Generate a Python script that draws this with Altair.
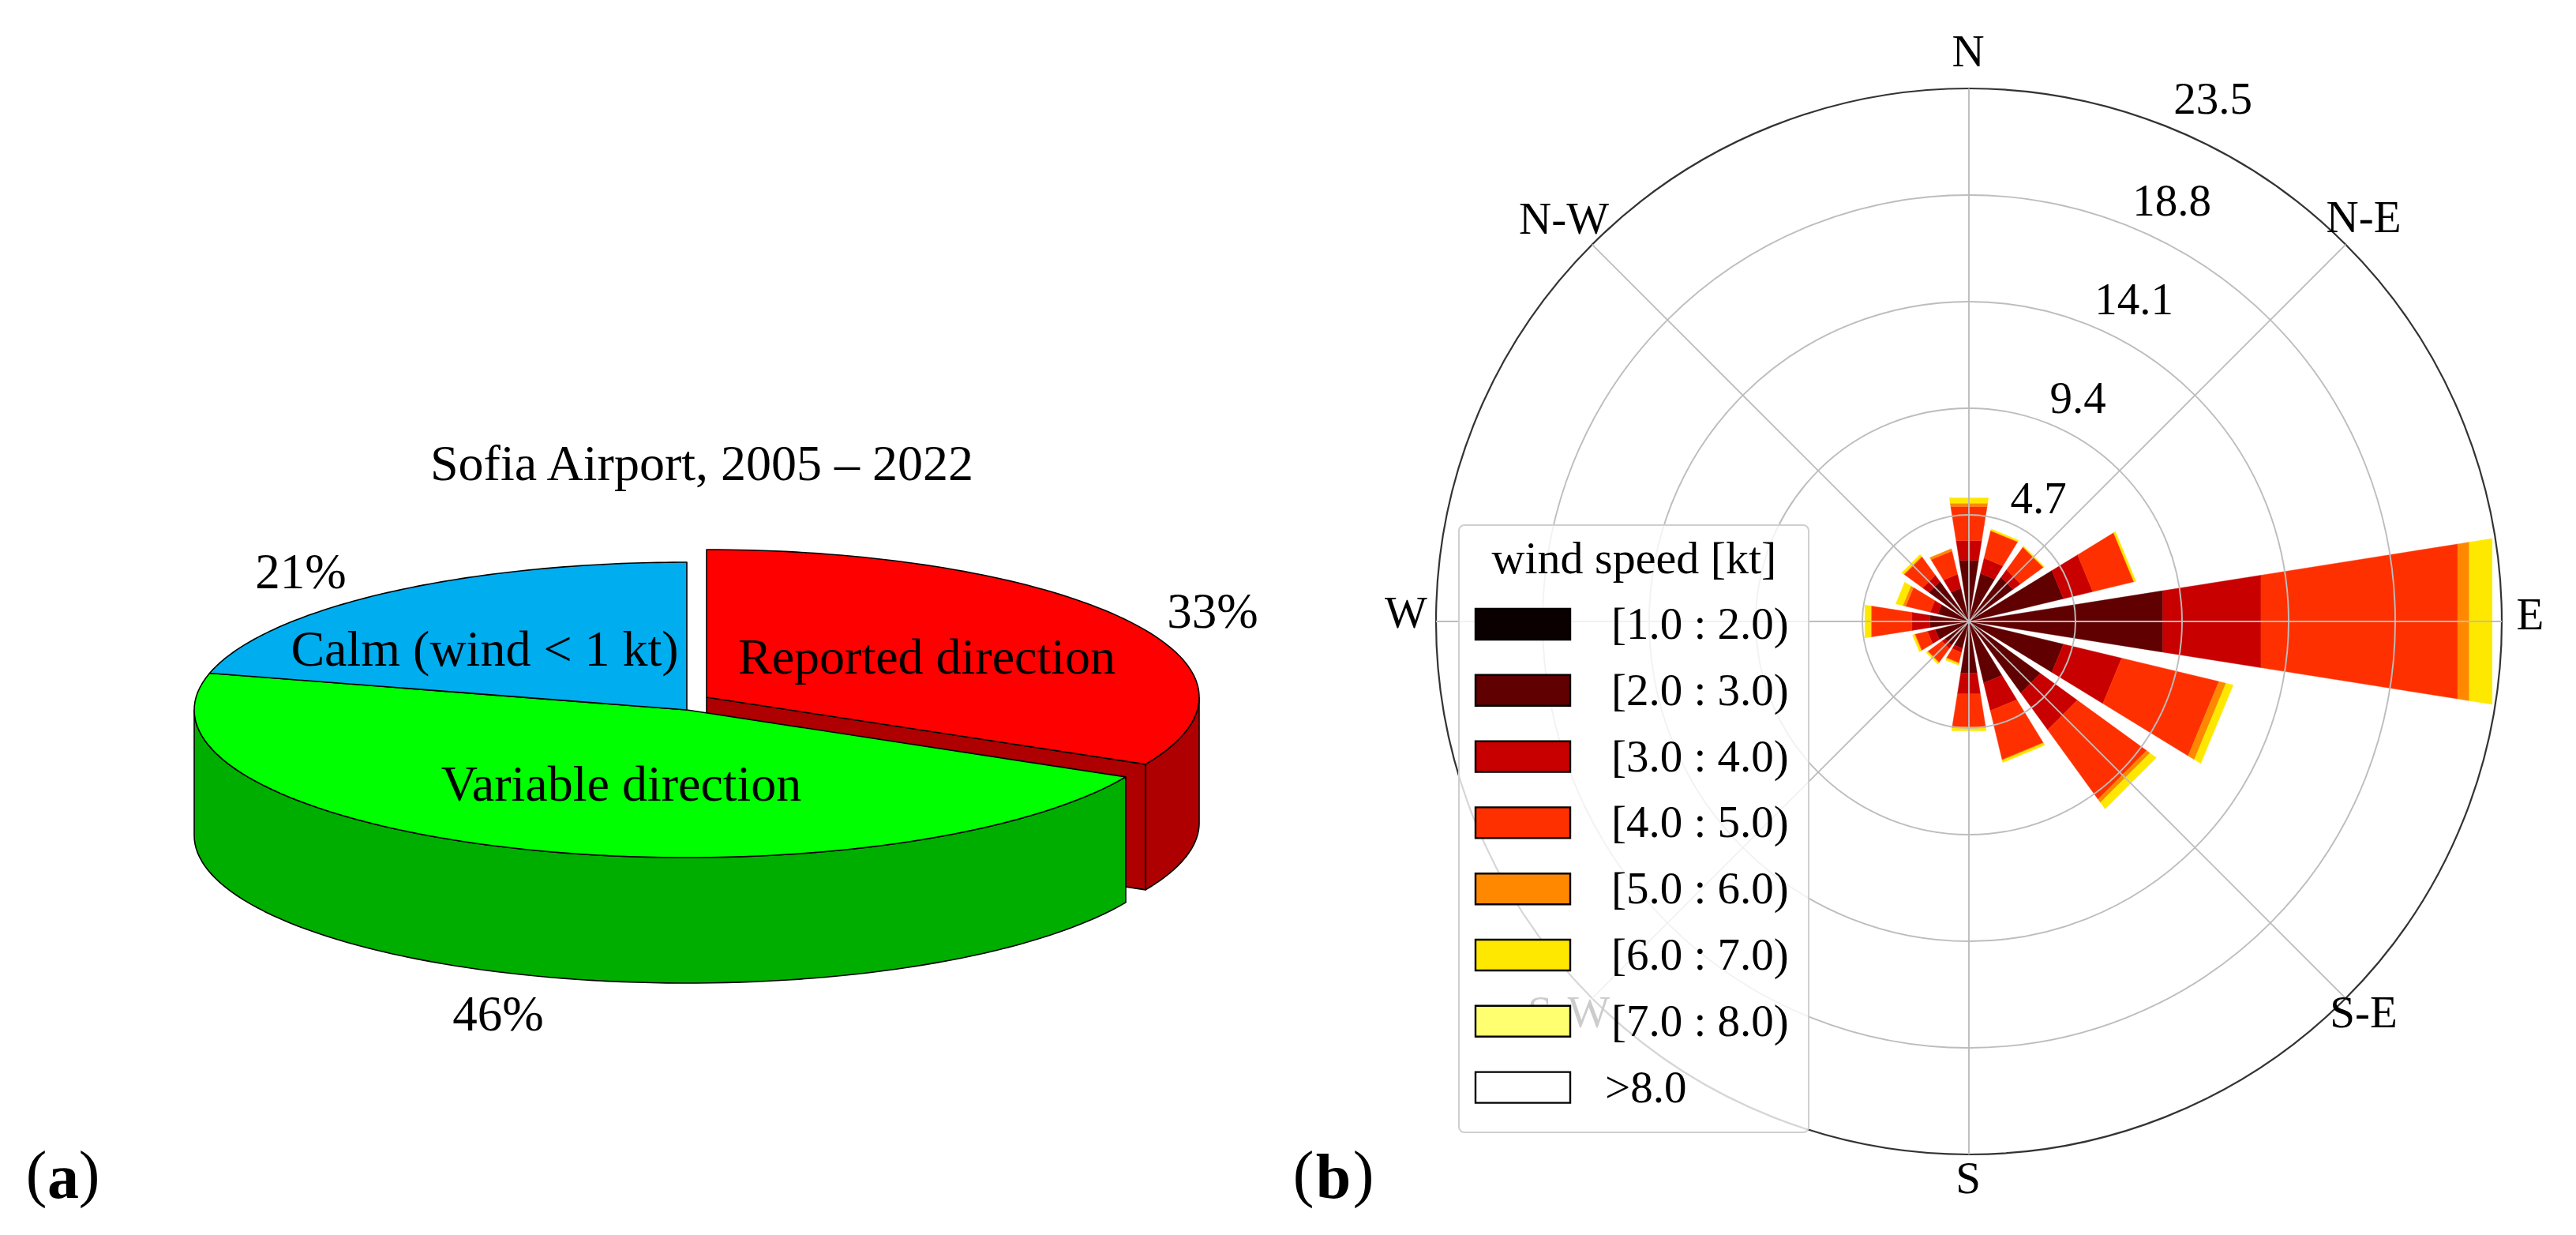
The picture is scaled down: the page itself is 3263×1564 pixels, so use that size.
import numpy as np
import pandas as pd
import altair as alt

FONT = "Liberation Serif"
W, H = 3247, 1548

# ---------- data: panel (a)
pie_names = ["Reported direction", "Variable direction", "Calm (wind < 1 kt)"]
pie_shares = [33, 46, 21]
pie_title = "Sofia Airport, 2005 \u2013 2022"

# ---------- data: panel (b)
directions = ["N", "NNE", "NE", "ENE", "E", "ESE", "SE", "SSE",
              "S", "SSW", "SW", "WSW", "W", "WNW", "NW", "NNW"]
# cumulative frequency at the outer edge of each speed class, per direction
upto_3 = [2.72, 2.18, 2.41, 4.29, 8.66, 4.29, 3.90, 2.79, 2.30, 1.23, 1.30, 1.53, 1.74, 1.41, 2.18, 1.51]
upto_4 = [3.60, 2.87, 2.82, 5.62, 13.04, 6.93, 5.91, 4.05, 3.23, 1.41, 1.47, 1.88, 2.54, 1.76, 2.52, 2.14]
upto_5 = [5.13, 4.11, 4.05, 7.48, 21.82, 11.34, 9.69, 6.27, 4.71, 1.88, 2.23, 2.44, 4.34, 2.87, 3.52, 3.20]
upto_6 = [5.28, 4.13, 4.07, 7.49, 22.34, 11.66, 9.87, 6.30, 4.76, 1.91, 2.26, 2.47, 4.38, 3.00, 3.56, 3.30]
upto_7 = [5.52, 4.20, 4.11, 7.58, 23.36, 11.99, 10.22, 6.40, 4.88, 1.99, 2.33, 2.56, 4.64, 3.32, 3.66, 3.30]
class_labels = ["[1.0 : 2.0)", "[2.0 : 3.0)", "[3.0 : 4.0)", "[4.0 : 5.0)",
                "[5.0 : 6.0)", "[6.0 : 7.0)", "[7.0 : 8.0)", ">8.0"]
class_colors = ["#0B0000", "#600000", "#C80000", "#FF3000",
                "#FF8800", "#FFE800", "#FFFF70", "#FFFFFF"]
ring_values = [4.7, 9.4, 14.1, 18.8]
ring_outer = 23.5
spoke_angles = [0, 45, 90, 135, 180, 225, 270, 315]

# ---------- scales
X = alt.Scale(domain=[8, 8 + W], range=[0, W])
Y = alt.Scale(domain=[8, 8 + H], range=[0, H])
TH = alt.Scale(domain=[0, 360], range=[0, 2 * np.pi])
RAD = alt.Scale(domain=[0, ring_outer], range=[0, 675])
CX, CY = 2494, 787
PX_PER_UNIT = 675 / ring_outer


def T(text, x, y, size=57, color="#000", **kw):
    return alt.Chart(pd.DataFrame({"t": [text]})).mark_text(
        font=FONT, fontSize=size, color=color, align=kw.pop("align", "center"),
        baseline="middle", **kw
    ).encode(text="t:N", x=alt.value(x - 8), y=alt.value(y - 8))


# ---------- pie helpers
RX, RY, DEPTH = 624, 187, 159
VIEW_SHIFT = 1.8   # the perspective moves the red/green edge a little


def ellipse_pts(cx, cy, a0, a1, n=90):
    a = np.radians(np.linspace(a0, a1, n))
    return cx + RX * np.sin(a), cy - RY * np.cos(a)


def poly(xs, ys, fill):
    xs = np.append(xs, xs[0])
    ys = np.append(ys, ys[0])
    df = pd.DataFrame({"x": xs, "y": ys, "i": np.arange(len(xs))})
    return alt.Chart(df).mark_line(
        fill=fill, stroke="#000", strokeWidth=1.6, strokeJoin="round", clip=False
    ).encode(
        x=alt.X("x:Q", scale=X, axis=None),
        y=alt.Y("y:Q", scale=Y, axis=None),
        order="i:Q",
    )


deg = [s * 3.6 for s in pie_shares]
red_end = deg[0] - VIEW_SHIFT        # clockwise from the top
green_end = deg[0] + deg[1]
blue_end = 360.0

PCX, PCY = 870, 899                  # main pie
RCX, RCY = 895, 883                  # exploded slice

pie_layers = []
# red slice: walls first
ax, ay = ellipse_pts(RCX, RCY, 90, red_end)
pie_layers.append(poly(np.r_[ax, ax[::-1]], np.r_[ay, ay[::-1] + DEPTH], "#AE0000"))
ex, ey = ellipse_pts(RCX, RCY, red_end, red_end, 1)
pie_layers.append(poly(np.r_[RCX, ex, ex, RCX], np.r_[RCY, ey, ey + DEPTH, RCY + DEPTH], "#AE0000"))
ax, ay = ellipse_pts(RCX, RCY, 0, red_end)
pie_layers.append(poly(np.r_[RCX, ax], np.r_[RCY, ay], "#FF0000"))
# green slice wall (front of the pie)
ax, ay = ellipse_pts(PCX, PCY, red_end, 270)
pie_layers.append(poly(np.r_[ax, ax[::-1]], np.r_[ay, ay[::-1] + DEPTH], "#00AE00"))
ax, ay = ellipse_pts(PCX, PCY, red_end, green_end)
pie_layers.append(poly(np.r_[PCX, ax], np.r_[PCY, ay], "#00FF00"))
ax, ay = ellipse_pts(PCX, PCY, green_end, blue_end)
pie_layers.append(poly(np.r_[PCX, ax], np.r_[PCY, ay], "#00ADEF"))

# ---------- wind rose: straight-ended wedges
dir_deg = np.arange(len(directions)) * 22.5
half = 9.0
stack = [np.zeros(len(directions)), upto_3, upto_4, upto_5, upto_6, upto_7]
bar_layers = []
for k in range(1, len(stack)):
    rows = []
    for j, d in enumerate(directions):
        r0, r1 = float(stack[k - 1][j]), float(stack[k][j])
        if r1 <= r0:
            continue
        corners = [(r0, -half), (r1, -half), (r1, half), (r0, half), (r0, -half)]
        for i, (r, da) in enumerate(corners):
            a = np.radians(dir_deg[j] + da)
            rows.append({"dir": d, "i": i,
                         "x": CX + r * PX_PER_UNIT * np.sin(a),
                         "y": CY - r * PX_PER_UNIT * np.cos(a)})
    bar_layers.append(
        alt.Chart(pd.DataFrame(rows)).mark_line(
            fill=class_colors[k], stroke=class_colors[k], strokeWidth=0.4
        ).encode(
            x=alt.X("x:Q", scale=X, axis=None),
            y=alt.Y("y:Q", scale=Y, axis=None),
            detail="dir:N",
            order="i:Q",
        )
    )

centre = dict(x=alt.value(CX - 8), y=alt.value(CY - 8))

rings = pd.DataFrame({"r": ring_values, "a0": 0.0, "a1": 360.0, "r0": 0.0})
ring_layer = alt.Chart(rings).mark_arc(fillOpacity=0, stroke="#BDBDBD", strokeWidth=1.9).encode(
    theta=alt.Theta("a0:Q", scale=TH), theta2="a1:Q",
    radius=alt.Radius("r:Q", scale=RAD), radius2="r0:Q", **centre)

outer = pd.DataFrame({"r": [ring_outer], "a0": 0.0, "a1": 360.0, "r0": 0.0})
outer_layer = alt.Chart(outer).mark_arc(fillOpacity=0, stroke="#333333", strokeWidth=2.2).encode(
    theta=alt.Theta("a0:Q", scale=TH), theta2="a1:Q",
    radius=alt.Radius("r:Q", scale=RAD), radius2="r0:Q", **centre)

spokes = pd.DataFrame({"a0": spoke_angles, "a1": spoke_angles, "r": ring_outer, "r0": 0.0})
spoke_layer = alt.Chart(spokes).mark_arc(fillOpacity=0, stroke="#BDBDBD", strokeWidth=1.9).encode(
    theta=alt.Theta("a0:Q", scale=TH), theta2="a1:Q",
    radius=alt.Radius("r:Q", scale=RAD), radius2="r0:Q", **centre)

# ---------- legend
LX0, LX1, LY0, LY1 = 1848, 2291, 665, 1434
box = alt.Chart(pd.DataFrame({"x0": [LX0], "x1": [LX1], "y0": [LY0], "y1": [LY1]})).mark_rect(
    fill="#FFFFFF", fillOpacity=0.8, stroke="#CFCFCF", strokeWidth=2, cornerRadius=7
).encode(x=alt.X("x0:Q", scale=X, axis=None), x2="x1:Q",
         y=alt.Y("y0:Q", scale=Y, axis=None), y2="y1:Q")

row_y = [771 + 83.8 * i for i in range(len(class_labels))]
swatches = pd.DataFrame({"cls": class_labels, "col": class_colors,
                         "x0": 1869, "x1": 1989,
                         "y0": row_y, "y1": [y + 39 for y in row_y]})
swatch_layer = alt.Chart(swatches).mark_rect(stroke="#000", strokeWidth=2.4).encode(
    x=alt.X("x0:Q", scale=X, axis=None), x2="x1:Q",
    y=alt.Y("y0:Q", scale=Y, axis=None), y2="y1:Q",
    fill=alt.Fill("col:N", scale=None),
)
legend_text = alt.Chart(pd.DataFrame({"t": class_labels, "x": [2041] * 7 + [2033],
                                      "y": [y + 21 for y in row_y]})).mark_text(
    font=FONT, fontSize=57, align="left", baseline="middle", color="#000"
).encode(x=alt.X("x:Q", scale=X, axis=None), y=alt.Y("y:Q", scale=Y, axis=None), text="t:N")

layers = pie_layers + [
    T(pie_title, 889, 589, 64),
    T(pie_names[0], 1174, 834, 64),
    T(pie_names[1], 787, 995, 64),
    T(pie_names[2], 614, 824, 64),
    T(f"{pie_shares[0]}%", 1536, 776, 63),
    T(f"{pie_shares[1]}%", 631, 1286, 63),
    T(f"{pie_shares[2]}%", 381, 726, 63),
] + bar_layers + [
    ring_layer, outer_layer, spoke_layer,
    T("N", 2493, 67), T("N-E", 2994, 277), T("E", 3205, 780), T("S-E", 2994, 1284),
    T("S", 2493, 1494), T("S-W", 1987, 1284), T("W", 1781, 778), T("N-W", 1981, 279),
    T("23.5", 2803, 127), T("18.8", 2751, 256), T("14.1", 2703, 381),
    T("9.4", 2632, 506), T("4.7", 2582, 633),
    box, swatch_layer, legend_text,
    T("wind speed [kt]", 2070, 709, 58),
    T("(", 46, 1489, 80), T("a", 80, 1493, 80, fontWeight="bold"), T(")", 113, 1489, 80),
    T("(", 1651, 1489, 80), T("b", 1689, 1493, 80, fontWeight="bold"), T(")", 1727, 1489, 80),
]

chart = alt.layer(*layers).properties(
    width=W, height=H, padding=0, autosize="none", background="#FFFFFF"
).configure_view(stroke=None)

chart.save("out.html", embed_options={"renderer": "svg", "actions": False})
